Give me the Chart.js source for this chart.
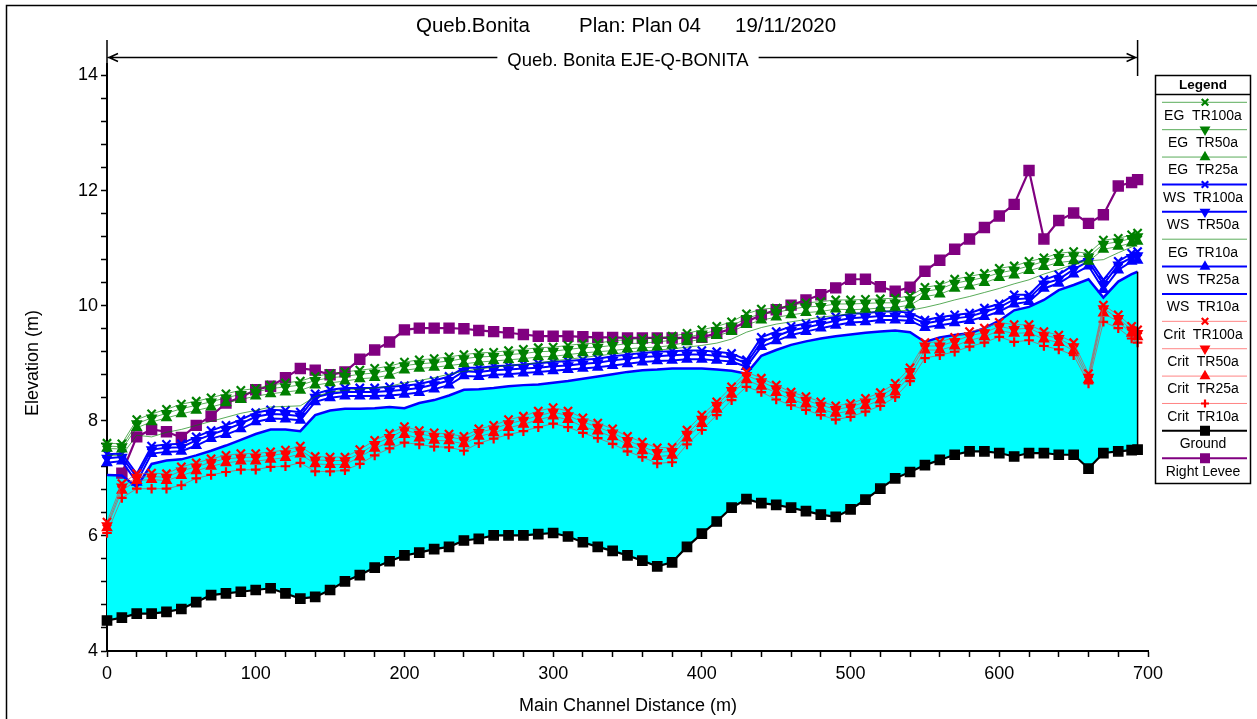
<!DOCTYPE html>
<html>
<head>
<meta charset="utf-8">
<script src="https://cdn.jsdelivr.net/npm/chart.js@4/dist/chart.umd.min.js"></script>
<style>
  html,body{margin:0;padding:0;background:#fff;overflow:hidden;}
  canvas{display:block;}
</style>
</head>
<body>
<canvas id="c" width="1257" height="719"></canvas>
<script>
// ---------------- DATA ----------------
const stations = [0,10,20,30,40,50,60,70,80,90,100,110,120,130,140,150,160,170,180,190,
  200,210,220,230,240,250,260,270,280,290,300,310,320,330,340,350,360,370,380,390,
  400,410,420,430,440,450,460,470,480,490,500,510,520,530,540,550,560,570,580,590,
  600,610,620,630,640,650,660,670,680,689,693];

const ground = [4.53,4.58,4.65,4.65,4.68,4.73,4.85,4.97,5.00,5.03,5.06,5.09,5.00,4.91,4.94,5.06,5.21,5.32,5.45,5.56,
  5.66,5.71,5.77,5.81,5.92,5.95,6.01,6.01,6.01,6.03,6.05,5.99,5.89,5.81,5.74,5.66,5.57,5.47,5.54,5.81,
  6.04,6.25,6.49,6.64,6.57,6.54,6.49,6.43,6.37,6.33,6.46,6.63,6.82,7.00,7.11,7.23,7.32,7.41,7.47,7.47,
  7.44,7.38,7.44,7.44,7.41,7.41,7.17,7.44,7.47,7.49,7.50];

const rightLevee = [null,7.09,7.72,7.85,7.81,7.71,7.92,8.08,8.31,8.41,8.54,8.60,8.75,8.91,8.88,8.80,8.85,9.07,9.23,9.37,
  9.58,9.61,9.61,9.61,9.60,9.57,9.55,9.53,9.50,9.47,9.47,9.47,9.46,9.45,9.45,9.44,9.44,9.44,9.44,9.44,
  9.45,9.52,9.60,9.72,9.84,9.93,10.01,10.10,10.19,10.31,10.46,10.46,10.33,10.25,10.32,10.60,10.79,10.98,11.16,11.36,
  11.56,11.76,12.35,11.16,11.48,11.61,11.43,11.58,12.08,12.14,12.19];

const wsTR10 = [7.06,7.05,6.85,7.25,7.31,7.33,7.40,7.48,7.57,7.67,7.77,7.85,7.85,7.82,8.10,8.18,8.21,8.21,8.22,8.24,
  8.22,8.31,8.36,8.44,8.54,8.55,8.57,8.60,8.62,8.63,8.66,8.69,8.73,8.77,8.81,8.85,8.88,8.89,8.91,8.91,
  8.91,8.89,8.87,8.82,9.13,9.23,9.32,9.38,9.43,9.47,9.50,9.53,9.55,9.57,9.54,9.37,9.45,9.49,9.52,9.61,
  9.74,9.92,9.98,10.10,10.27,10.36,10.46,10.14,10.42,10.55,10.59];

const wsTR25 = [7.27,7.30,6.93,7.43,7.46,7.47,7.57,7.69,7.76,7.86,7.98,8.04,8.03,8.01,8.33,8.40,8.43,8.43,8.43,8.44,
  8.46,8.49,8.55,8.62,8.78,8.77,8.80,8.81,8.83,8.85,8.87,8.89,8.91,8.93,8.96,8.99,9.02,9.04,9.05,9.07,
  9.07,9.05,9.03,8.94,9.29,9.39,9.49,9.55,9.61,9.66,9.71,9.72,9.75,9.75,9.74,9.62,9.66,9.70,9.74,9.81,
  9.90,10.03,10.07,10.30,10.39,10.55,10.69,10.28,10.62,10.77,10.79];

const wsTR50 = [7.35,7.37,7.02,7.50,7.53,7.54,7.66,7.76,7.85,7.95,8.07,8.12,8.11,8.08,8.41,8.47,8.50,8.50,8.50,8.52,
  8.54,8.57,8.63,8.70,8.86,8.85,8.88,8.89,8.91,8.92,8.95,8.96,8.99,9.01,9.05,9.08,9.11,9.12,9.14,9.15,
  9.15,9.13,9.10,9.00,9.37,9.47,9.57,9.62,9.68,9.74,9.78,9.80,9.82,9.82,9.81,9.69,9.74,9.78,9.81,9.89,
  9.97,10.11,10.13,10.38,10.46,10.63,10.77,10.37,10.71,10.84,10.87];

const wsTR100 = [7.42,7.43,7.08,7.56,7.59,7.60,7.72,7.83,7.92,8.02,8.14,8.19,8.18,8.15,8.47,8.54,8.57,8.57,8.57,8.59,
  8.61,8.64,8.70,8.77,8.92,8.92,8.95,8.96,8.98,9.00,9.02,9.04,9.06,9.08,9.12,9.15,9.18,9.20,9.21,9.22,
  9.22,9.20,9.17,9.06,9.45,9.55,9.64,9.69,9.75,9.81,9.86,9.87,9.90,9.90,9.88,9.75,9.80,9.84,9.87,9.96,
  10.03,10.19,10.19,10.45,10.54,10.71,10.83,10.45,10.77,10.91,10.94];

const egTR10 = [7.40,7.40,7.75,7.72,7.80,7.85,7.92,7.99,8.06,8.13,8.18,8.24,8.25,8.26,8.42,8.50,8.53,8.55,8.57,8.60,
  8.66,8.70,8.75,8.81,8.86,8.90,8.93,8.96,8.98,9.01,9.04,9.07,9.10,9.13,9.16,9.19,9.21,9.23,9.25,9.28,
  9.31,9.35,9.42,9.54,9.62,9.68,9.72,9.76,9.80,9.83,9.86,9.88,9.90,9.91,9.92,9.97,10.03,10.10,10.16,10.23,
  10.30,10.38,10.45,10.55,10.63,10.72,10.78,10.80,10.92,11.02,11.06];

const egTR25 = [7.52,7.51,7.88,7.98,8.05,8.12,8.18,8.24,8.31,8.37,8.43,8.47,8.50,8.53,8.62,8.66,8.69,8.73,8.75,8.79,
  8.88,8.91,8.93,8.96,8.99,9.02,9.04,9.06,9.08,9.11,9.12,9.15,9.18,9.20,9.22,9.25,9.27,9.28,9.31,9.37,
  9.42,9.48,9.55,9.67,9.75,9.80,9.84,9.88,9.90,9.94,9.93,9.94,9.96,9.97,10.01,10.16,10.20,10.30,10.34,10.40,
  10.49,10.53,10.61,10.68,10.75,10.78,10.77,10.98,11.03,11.09,11.12];

const egTR50 = [7.56,7.55,7.95,8.05,8.13,8.21,8.27,8.33,8.40,8.46,8.50,8.56,8.59,8.62,8.70,8.75,8.77,8.81,8.83,8.88,
  8.96,8.99,9.01,9.04,9.08,9.11,9.12,9.15,9.17,9.20,9.21,9.24,9.27,9.28,9.31,9.34,9.35,9.37,9.40,9.45,
  9.51,9.57,9.65,9.78,9.86,9.88,9.94,9.98,9.99,10.03,10.03,10.04,10.05,10.05,10.10,10.25,10.29,10.39,10.44,10.49,
  10.57,10.62,10.69,10.77,10.84,10.87,10.85,11.07,11.11,11.17,11.20];

const egTR100 = [7.61,7.60,8.02,8.12,8.20,8.29,8.34,8.40,8.47,8.53,8.56,8.62,8.66,8.69,8.77,8.82,8.85,8.88,8.91,8.95,
  9.02,9.06,9.08,9.11,9.15,9.18,9.19,9.22,9.24,9.27,9.28,9.31,9.34,9.35,9.39,9.41,9.43,9.44,9.47,9.52,
  9.58,9.64,9.72,9.86,9.94,9.96,10.01,10.05,10.07,10.10,10.10,10.11,10.12,10.13,10.17,10.32,10.36,10.46,10.51,10.56,
  10.65,10.69,10.77,10.83,10.91,10.94,10.91,11.14,11.17,11.23,11.26];

const critTR10 = [6.05,6.66,6.82,6.82,6.82,6.88,7.00,7.06,7.11,7.15,7.15,7.20,7.21,7.27,7.12,7.12,7.14,7.25,7.40,7.52,
  7.62,7.59,7.55,7.54,7.48,7.61,7.69,7.76,7.82,7.89,7.95,7.89,7.79,7.70,7.60,7.47,7.37,7.26,7.28,7.59,
  7.84,8.10,8.36,8.59,8.50,8.37,8.27,8.19,8.10,8.02,8.07,8.16,8.26,8.41,8.69,9.09,9.14,9.20,9.29,9.36,
  9.46,9.37,9.40,9.30,9.24,9.14,8.65,9.72,9.61,9.43,9.36];

const critTR25 = [6.14,6.79,6.96,6.98,6.96,7.05,7.13,7.21,7.27,7.30,7.30,7.33,7.36,7.42,7.25,7.24,7.24,7.37,7.52,7.63,
  7.76,7.70,7.66,7.65,7.60,7.73,7.79,7.88,7.94,8.02,8.08,8.02,7.90,7.82,7.72,7.59,7.48,7.38,7.40,7.70,
  7.95,8.20,8.46,8.71,8.60,8.49,8.37,8.29,8.20,8.13,8.17,8.26,8.36,8.50,8.78,9.23,9.23,9.30,9.40,9.46,
  9.57,9.52,9.53,9.42,9.36,9.22,8.71,9.87,9.72,9.52,9.46];

const critTR50 = [6.18,6.85,7.02,7.03,7.02,7.13,7.20,7.28,7.34,7.36,7.37,7.40,7.43,7.49,7.32,7.31,7.31,7.43,7.59,7.71,
  7.84,7.77,7.73,7.72,7.67,7.80,7.86,7.95,8.01,8.09,8.15,8.09,7.98,7.89,7.79,7.66,7.55,7.45,7.47,7.77,
  8.03,8.27,8.53,8.79,8.68,8.56,8.45,8.36,8.27,8.20,8.24,8.33,8.43,8.58,8.86,9.30,9.30,9.38,9.48,9.53,
  9.64,9.59,9.61,9.49,9.43,9.29,8.76,9.95,9.78,9.58,9.52];

const critTR100 = [6.24,6.91,7.08,7.09,7.08,7.20,7.27,7.34,7.40,7.43,7.43,7.46,7.49,7.56,7.38,7.37,7.37,7.50,7.66,7.78,
  7.90,7.83,7.79,7.77,7.73,7.86,7.92,8.02,8.08,8.17,8.23,8.17,8.05,7.96,7.86,7.73,7.63,7.53,7.54,7.84,
  8.10,8.33,8.59,8.85,8.74,8.62,8.50,8.42,8.33,8.26,8.30,8.39,8.49,8.65,8.92,9.36,9.37,9.45,9.55,9.61,
  9.71,9.67,9.67,9.55,9.49,9.36,8.82,10.01,9.84,9.64,9.58];

const xTicks = [0,20,40,60,80,100,120,140,160,180,200,220,240,260,280,300,320,340,360,380,400,
  420,440,460,480,500,520,540,560,580,600,620,640,660,680,700];
const xLabels = [0,100,200,300,400,500,600,700];
const yTicks = [4,4.4,4.8,5.2,5.6,6,6.4,6.8,7.2,7.6,8,8.4,8.8,9.2,9.6,10,10.4,10.8,11.2,11.6,12,12.4,12.8,13.2,13.6,14];
const yLabels = [4,6,8,10,12,14];

const titleParts = ['Queb.Bonita', 'Plan: Plan 04', '19/11/2020'];
const reachLabel = 'Queb. Bonita EJE-Q-BONITA';

// ---------------- STYLES ----------------
const FONT = '"Liberation Sans", Arial, Helvetica, sans-serif';
const GREEN = '#008000', BLUE = '#0000FF', RED = '#FF0000', PURPLE = '#800080';
const egLine = 'rgba(0,128,0,0.65)';
const critLine = 'rgba(190,90,90,0.75)';

function pts(vals){ return stations.map((s,i)=>({x:s, y:vals[i]})); }

function ds(label, vals, o){
  return Object.assign({
    label, data: pts(vals), showLine:true, clip:false, spanGaps:false,
    borderWidth:1, pointBorderWidth:1.5, tension:0, fill:false
  }, o);
}

const XR = 5.8, TR = 5.3;
const datasets = [
  ds('EG  TR100a', egTR100, {borderColor:egLine, pointStyle:'crossRot', pointRadius:XR, pointBorderColor:GREEN, pointBackgroundColor:GREEN, pointBorderWidth:2.2, order:2}),
  ds('EG  TR50a', egTR50, {borderColor:egLine, pointStyle:'triangle', pointRotation:180, pointRadius:TR, pointBorderColor:GREEN, pointBackgroundColor:GREEN, order:2}),
  ds('EG  TR25a', egTR25, {borderColor:egLine, pointStyle:'triangle', pointRadius:TR, pointBorderColor:GREEN, pointBackgroundColor:GREEN, order:2}),
  ds('WS  TR100a', wsTR100, {borderColor:BLUE, borderWidth:2, pointStyle:'crossRot', pointRadius:XR, pointBorderColor:BLUE, pointBackgroundColor:BLUE, pointBorderWidth:2.2, order:3}),
  ds('WS  TR50a', wsTR50, {borderColor:BLUE, borderWidth:2, pointStyle:'triangle', pointRotation:180, pointRadius:TR, pointBorderColor:BLUE, pointBackgroundColor:BLUE, order:3}),
  ds('EG  TR10a', egTR10, {borderColor:egLine, pointRadius:0, order:2}),
  ds('WS  TR25a', wsTR25, {borderColor:BLUE, borderWidth:2, pointStyle:'triangle', pointRadius:TR, pointBorderColor:BLUE, pointBackgroundColor:BLUE, order:3}),
  ds('WS  TR10a', wsTR10, {borderColor:BLUE, borderWidth:2.5, pointRadius:0, backgroundColor:'#00FFFF', fill:{target:12}, order:3}),
  ds('Crit  TR100a', critTR100, {borderColor:critLine, pointStyle:'crossRot', pointRadius:XR, pointBorderColor:RED, pointBackgroundColor:RED, pointBorderWidth:2.2, order:1}),
  ds('Crit  TR50a', critTR50, {borderColor:critLine, pointStyle:'triangle', pointRotation:180, pointRadius:TR, pointBorderColor:RED, pointBackgroundColor:RED, order:1}),
  ds('Crit  TR25a', critTR25, {borderColor:critLine, pointStyle:'triangle', pointRadius:TR, pointBorderColor:RED, pointBackgroundColor:RED, order:1}),
  ds('Crit  TR10a', critTR10, {borderColor:critLine, pointStyle:'cross', pointRadius:4.8, pointBorderColor:RED, pointBackgroundColor:RED, pointBorderWidth:2.2, order:1}),
  ds('Ground', ground, {borderColor:'#000', borderWidth:2.2, pointStyle:'rect', pointRadius:6.5, pointBorderColor:'#000', pointBackgroundColor:'#000', order:4}),
  ds('Right Levee', rightLevee, {borderColor:PURPLE, borderWidth:2.2, pointStyle:'rect', pointRadius:7, pointBorderColor:PURPLE, pointBackgroundColor:PURPLE, order:5}),
  {label:'_edge', data:[{x:stations[stations.length-1], y:wsTR10[wsTR10.length-1]},{x:stations[stations.length-1], y:ground[ground.length-1]}],
   showLine:true, borderColor:'#000', borderWidth:1.5, pointRadius:0, clip:false, fill:false, order:0}
];

// legend entries with line styles (in the order shown)
const legendStyle = [
  {c:egLine, w:1, p:'crossRot', r:4.6, pc:GREEN, pw:2.2},
  {c:egLine, w:1, p:'triangle', rot:180, r:4.8, pc:GREEN},
  {c:egLine, w:1, p:'triangle', r:4.8, pc:GREEN},
  {c:BLUE, w:2, p:'crossRot', r:4.6, pc:BLUE, pw:2.2},
  {c:BLUE, w:2, p:'triangle', rot:180, r:4.8, pc:BLUE},
  {c:egLine, w:1, p:null},
  {c:BLUE, w:2, p:'triangle', r:4.8, pc:BLUE},
  {c:BLUE, w:2, p:null},
  {c:'rgba(255,80,80,0.7)', w:1, p:'crossRot', r:4.6, pc:RED, pw:2.2},
  {c:'rgba(255,80,80,0.7)', w:1, p:'triangle', rot:180, r:4.8, pc:RED},
  {c:'rgba(255,80,80,0.7)', w:1, p:'triangle', r:4.8, pc:RED},
  {c:'rgba(255,80,80,0.7)', w:1, p:'cross', r:4, pc:RED, pw:2.2},
  {c:'#000', w:2, p:'rect', r:6, pc:'#000'},
  {c:PURPLE, w:2, p:'rect', r:6, pc:PURPLE}
];

const deco = {
  id:'deco',
  afterDraw(chart){
    const ctx = chart.ctx, xs = chart.scales.x, ca = chart.chartArea;
    ctx.save();
    // outer frame
    ctx.strokeStyle = '#000'; ctx.lineWidth = 1.5;
    ctx.beginPath(); ctx.moveTo(6.5, 719); ctx.lineTo(6.5, 5.5); ctx.lineTo(1257, 5.5); ctx.stroke();

    // title
    ctx.fillStyle = '#000'; ctx.textBaseline = 'middle'; ctx.textAlign = 'left';
    ctx.font = '20.5px ' + FONT;
    ctx.fillText(titleParts[0], 416, 26);
    ctx.fillText(titleParts[1], 579, 26);
    ctx.fillText(titleParts[2], 735, 26);

    // reach marker
    const xa = xs.getPixelForValue(stations[0]);
    const xb = xs.getPixelForValue(stations[stations.length-1]);
    const yr = 57.5;
    ctx.lineWidth = 1.5;
    ctx.beginPath();
    ctx.moveTo(xa, 40); ctx.lineTo(xa, ca.top);
    ctx.moveTo(xb, 40); ctx.lineTo(xb, 76);
    ctx.moveTo(xa+1, yr); ctx.lineTo(xb-1, yr);
    ctx.moveTo(xa+11, yr-4); ctx.lineTo(xa+2, yr); ctx.lineTo(xa+11, yr+4);
    ctx.moveTo(xb-11, yr-4); ctx.lineTo(xb-2, yr); ctx.lineTo(xb-11, yr+4);
    ctx.stroke();
    ctx.font = '18.5px ' + FONT;
    const tw = ctx.measureText(reachLabel).width;
    const cx = 628;
    ctx.fillStyle = '#fff'; ctx.fillRect(cx - tw/2 - 10, yr - 8, tw + 20, 16);
    ctx.fillStyle = '#000'; ctx.textAlign = 'center';
    ctx.fillText(reachLabel, cx, yr + 3);

    // axis titles
    ctx.font = '18px ' + FONT;
    ctx.fillText('Main Channel Distance (m)', 628, 706);
    ctx.save(); ctx.translate(33, 363); ctx.rotate(-Math.PI/2);
    ctx.fillText('Elevation (m)', 0, 0); ctx.restore();

    // legend
    const bx = 1155.5, by = 75.5, bw = 95, bh = 408;
    ctx.fillStyle = '#fff'; ctx.fillRect(bx, by, bw, bh);
    ctx.strokeStyle = '#000'; ctx.lineWidth = 1.5;
    ctx.strokeRect(bx, by, bw, bh);
    ctx.beginPath(); ctx.moveTo(bx, 94.5); ctx.lineTo(bx + bw, 94.5); ctx.stroke();
    ctx.fillStyle = '#000';
    ctx.font = 'bold 13.5px ' + FONT; ctx.textAlign = 'center';
    ctx.fillText('Legend', 1203, 85);
    ctx.font = '14px ' + FONT;
    const labels = chart.data.datasets.filter(d=>!d.label.startsWith('_')).map(d=>d.label);
    labels.forEach((lab, i) => {
      const st = legendStyle[i];
      const ly = 102.3 + i*27.38;
      ctx.strokeStyle = st.c; ctx.lineWidth = st.w;
      ctx.beginPath(); ctx.moveTo(1162, ly); ctx.lineTo(1247, ly); ctx.stroke();
      if (st.p) {
        ctx.strokeStyle = st.pc; ctx.fillStyle = st.pc; ctx.lineWidth = st.pw || 1.5;
        Chart.helpers.drawPoint(ctx, {pointStyle: st.p, rotation: st.rot || 0, radius: st.r, borderWidth: st.pw || 1.5}, 1205, ly);
      }
      ctx.fillStyle = '#000';
      ctx.fillText(lab, 1203, ly + 13.5);
    });
    ctx.restore();
  }
};

new Chart(document.getElementById('c'), {
  type: 'scatter',
  data: { datasets },
  options: {
    responsive: false, animation: false, devicePixelRatio: 1,
    layout: { padding: { left: 0, top: 64, right: 109, bottom: 0 } },
    plugins: {
      legend: { display: false }, title: { display: false }, tooltip: { enabled: false },
      filler: { drawTime: 'beforeDatasetsDraw' }
    },
    scales: {
      x: {
        type: 'linear', min: 0, max: 700,
        afterFit: s => { s.height = 68; },
        afterBuildTicks: s => { s.ticks = xTicks.map(v => ({value: v})); },
        ticks: { autoSkip: false, maxRotation: 0, padding: 6, color: '#000',
          font: { family: FONT, size: 18 },
          callback: v => xLabels.includes(v) ? String(v) : '' },
        grid: { drawOnChartArea: false, drawTicks: true, tickLength: 6, tickWidth: 1.5, tickColor: '#000' },
        border: { display: true, color: '#000', width: 2 }
      },
      y: {
        type: 'linear', min: 4, max: 14.2,
        afterFit: s => { s.width = 107; },
        afterBuildTicks: s => { s.ticks = yTicks.map(v => ({value: v})); },
        ticks: { autoSkip: false, padding: 3, color: '#000',
          font: { family: FONT, size: 18 },
          callback: v => yLabels.some(l => Math.abs(l - v) < 1e-6) ? String(Math.round(v)) : '' },
        grid: { drawOnChartArea: false, drawTicks: true, tickLength: 6, tickWidth: 1.5, tickColor: '#000' },
        border: { display: true, color: '#000', width: 2 }
      }
    }
  },
  plugins: [deco]
});
</script>
</body>
</html>
